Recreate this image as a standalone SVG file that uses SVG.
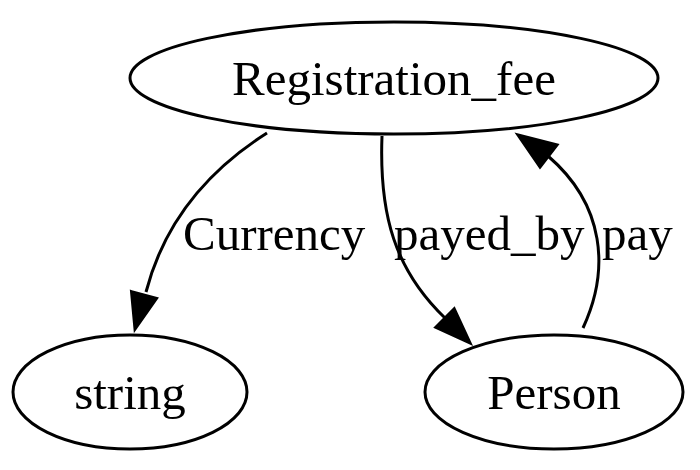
<svg xmlns="http://www.w3.org/2000/svg" width="700" height="470" viewBox="0 0 700 470">
<style>
.node ellipse{fill:none;stroke:#000;stroke-width:3}
.node text{font-family:"Liberation Serif","Times New Roman",serif;font-size:49px;fill:#000;text-anchor:middle}
.edge path{fill:none;stroke:#000;stroke-width:3}
.edge polygon{fill:#000;stroke:#000;stroke-width:3}
.edge text{font-family:"Liberation Serif","Times New Roman",serif;font-size:49px;fill:#000}
</style>
<rect width="700" height="470" fill="#fff"/>
<g id="edges">
<g class="edge" id="e_currency">
<path d="M267,133 C215,166 166,215 146,292"/>
<polygon points="131.5,291.6 156.5,298.4 135,329"/>
<text x="183" y="250">Currency</text>
</g>
<g class="edge" id="e_payed_by">
<path d="M382,136 C379,215 395,270 445,318"/>
<polygon points="435.8,327.2 454.2,308.8 470,343"/>
<text x="394" y="250">payed_by</text>
</g>
<g class="edge" id="e_pay">
<path d="M583,328 C610,270 605,205 548,156"/>
<polygon points="540,167 557,145 518,135"/>
<text x="602" y="250">pay</text>
</g>
</g>
<g class="node" id="Registration_fee">
<ellipse cx="394" cy="78" rx="264" ry="56"/>
<text x="394" y="95">Registration_fee</text>
</g>
<g class="node" id="string">
<ellipse cx="130" cy="392" rx="117" ry="57"/>
<text x="130" y="409">string</text>
</g>
<g class="node" id="Person">
<ellipse cx="554" cy="392" rx="129" ry="57"/>
<text x="554" y="409">Person</text>
</g>
</svg>
